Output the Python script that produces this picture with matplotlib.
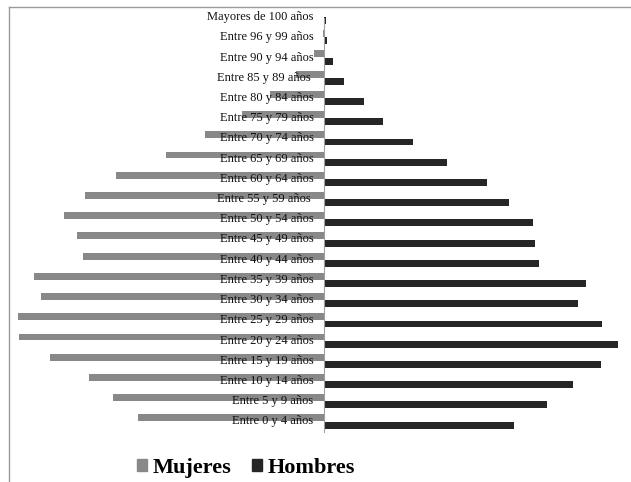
import matplotlib.pyplot as plt
from matplotlib.patches import Patch

# grupos de edad, de abajo (0-4) hacia arriba (100+)
grupos = ['Entre 0 y 4 años', 'Entre 5 y 9 años', 'Entre 10 y 14 años',
          'Entre 15 y 19 años', 'Entre 20 y 24 años', 'Entre 25 y 29 años',
          'Entre 30 y 34 años', 'Entre 35 y 39 años', 'Entre 40 y 44 años',
          'Entre 45 y 49 años', 'Entre 50 y 54 años', 'Entre 55 y 59 años ',
          'Entre 60 y 64 años', 'Entre 65 y 69 años', 'Entre 70 y 74 años',
          'Entre 75 y 79 años', 'Entre 80 y 84 años', 'Entre 85 y 89 años ',
          'Entre 90 y 94 años', 'Entre 96 y 99 años', 'Mayores de 100 años']
mujeres = [1860, 2110, 2350, 2740, 3050, 3060, 2830, 2900, 2410, 2466, 2600,
           2390, 2076, 1580, 1190, 825, 540, 280, 100, 10, 3]
hombres = [1895, 2230, 2490, 2770, 2935, 2780, 2540, 2620, 2150, 2110, 2090,
           1850, 1630, 1225, 890, 590, 400, 195, 90, 30, 20]

plt.rcParams['font.family'] = ['Liberation Serif', 'DejaVu Serif']

fig = plt.figure(figsize=(6.31, 4.82), dpi=100)
W, H = 631, 482

# marco del grafico (linea superior e izquierda)
fig.add_artist(plt.Line2D([9 / W, 1], [1 - 7 / H, 1 - 7 / H], color='#9a9a9a', lw=1.0))
fig.add_artist(plt.Line2D([9 / W, 9 / W], [0, 1 - 7 / H], color='#9a9a9a', lw=1.0))

ax = fig.add_axes([10 / W, 49 / H, 620 / W, 423 / H])
y = list(range(len(grupos)))
ax.barh([i + 0.18 for i in y], [-m for m in mujeres], height=0.34, color='#888888', zorder=2)
ax.barh([i - 0.18 for i in y], hombres, height=0.34, color='#262626', zorder=2)
ax.axvline(0, color='#a0a0a0', lw=0.8, ymax=0.98, zorder=3)

for i, g in zip(y, grupos):
    ax.annotate(g, xy=(0, i), xytext=(-7.5, 0), textcoords='offset points',
                ha='right', va='center', fontsize=9, color='#111111', zorder=4)

ax.set_xlim(-3140, 3060)
ax.set_ylim(-0.57, 20.35)
ax.axis('off')

handles = [Patch(color='#888888', label='Mujeres'), Patch(color='#262626', label='Hombres')]
fig.legend(handles=handles, loc='center', bbox_to_anchor=(246 / W, 1 - 468 / H), ncol=2,
           frameon=False, prop={'weight': 'bold', 'size': 16}, handlelength=0.45,
           handleheight=0.45, handletextpad=0.25, columnspacing=0.95)

fig.savefig('out.png', dpi=100)
